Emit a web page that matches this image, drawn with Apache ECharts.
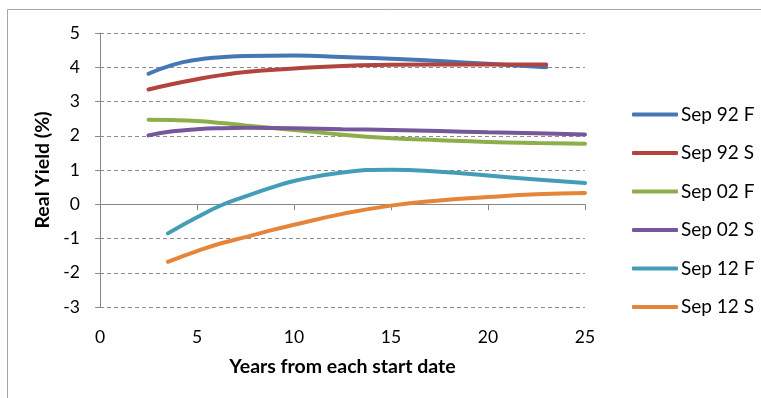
<!DOCTYPE html>
<html>
<head>
<meta charset="utf-8">
<script src="https://cdn.jsdelivr.net/npm/echarts@6/dist/echarts.min.js"></script>
<style>html,body{margin:0;padding:0;background:#fff}#c{width:761px;height:398px}</style>
</head>
<body>
<div id="c"></div>
<script>
const seriesNames = ['Sep 92 F', 'Sep 92 S', 'Sep 02 F', 'Sep 02 S', 'Sep 12 F', 'Sep 12 S'];
const x92 = [2.5, 3.75, 5, 6.25, 7.5, 10, 12.5, 15, 17.5, 20, 23];
const sep92F = [3.81, 4.07, 4.22, 4.29, 4.33, 4.34, 4.30, 4.25, 4.18, 4.10, 4.00];
const sep92S = [3.35, 3.51, 3.65, 3.77, 3.86, 3.96, 4.04, 4.07, 4.08, 4.08, 4.08];
const x02 = [2.5, 3.75, 5, 6.25, 7.5, 10, 12.5, 15, 17.5, 20, 22.5, 25];
const sep02F = [2.47, 2.46, 2.43, 2.37, 2.30, 2.17, 2.03, 1.93, 1.87, 1.82, 1.79, 1.77];
const sep02S = [2.01, 2.13, 2.19, 2.22, 2.23, 2.22, 2.19, 2.17, 2.14, 2.10, 2.07, 2.04];
const x12 = [3.5, 5, 6.25, 7.5, 8.75, 10, 12.5, 15, 17.5, 20, 22.5, 25];
const sep12F = [-0.85, -0.38, -0.03, 0.23, 0.47, 0.68, 0.93, 1.01, 0.95, 0.84, 0.72, 0.62];
const sep12S = [-1.68, -1.37, -1.14, -0.96, -0.77, -0.60, -0.28, -0.04, 0.11, 0.21, 0.29, 0.33];
const xTicks = [0, 5, 10, 15, 20, 25];
const yTicks = [-3, -2, -1, 0, 1, 2, 3, 4, 5];

const colors = ['#4677B5', '#B3433F', '#8DAF4B', '#76579A', '#439DB6', '#E5853A'];
const xsList = [x92, x92, x02, x02, x12, x12];
const ysList = [sep92F, sep92S, sep02F, sep02S, sep12F, sep12S];
const FONT = 'Lato';

const chart = echarts.init(document.getElementById('c'));
chart.setOption({
  animation: false,
  backgroundColor: '#fff',
  graphic: [{
    type: 'rect', shape: { x: 7.5, y: 9.5, width: 800, height: 420 },
    style: { fill: 'none', stroke: '#a6a6a6', lineWidth: 1 }, silent: true
  }],
  grid: { left: 100, right: 176, top: 33, bottom: 91 },
  legend: {
    orient: 'vertical', left: 627, top: 100,
    itemWidth: 46, itemHeight: 4, itemGap: 19.5,
    icon: 'roundRect',
    data: seriesNames,
    textStyle: { fontFamily: FONT, fontSize: 19, lineHeight: 19, color: '#000', padding: [0, 0, 0, -2] }
  },
  xAxis: [{
    type: 'value', min: xTicks[0], max: xTicks[xTicks.length - 1], interval: 5,
    axisLine: { onZero: true, lineStyle: { color: '#888', width: 1 } },
    axisTick: { show: true, length: 6, lineStyle: { color: '#888' } },
    axisLabel: { show: false },
    splitLine: { show: false }
  }, {
    type: 'value', position: 'bottom', min: xTicks[0], max: xTicks[xTicks.length - 1], interval: 5,
    axisLine: { show: false, onZero: false },
    axisTick: { show: false },
    axisLabel: { margin: 21, fontFamily: FONT, fontSize: 17.5, color: '#000' },
    splitLine: { show: false },
    name: 'Years from each start date', nameLocation: 'middle', nameGap: 50,
    nameTextStyle: { fontFamily: FONT, fontSize: 19.5, fontWeight: 'bold', color: '#000' }
  }],
  yAxis: {
    type: 'value', min: yTicks[0], max: yTicks[yTicks.length - 1], interval: 1,
    axisLine: { show: true, lineStyle: { color: '#888', width: 1 } },
    axisTick: { show: true, length: 5, lineStyle: { color: '#888' } },
    axisLabel: { margin: 20, fontFamily: FONT, fontSize: 17.5, color: '#000' },
    splitLine: { show: true, lineStyle: { color: '#8c8c8c', type: [4, 3], width: 1 } },
    name: 'Real Yield (%)', nameLocation: 'middle', nameGap: 45,
    nameTextStyle: { fontFamily: FONT, fontSize: 19.5, fontWeight: 'bold', color: '#000' }
  },
  series: seriesNames.map((n, k) => ({
    name: n, type: 'line', xAxisIndex: 0, smooth: 0.5, showSymbol: false, symbol: 'none',
    color: colors[k],
    lineStyle: { width: 4, color: colors[k], cap: 'round' },
    data: xsList[k].map((x, i) => [x, ysList[k][i]])
  }))
});
</script>
</body>
</html>
